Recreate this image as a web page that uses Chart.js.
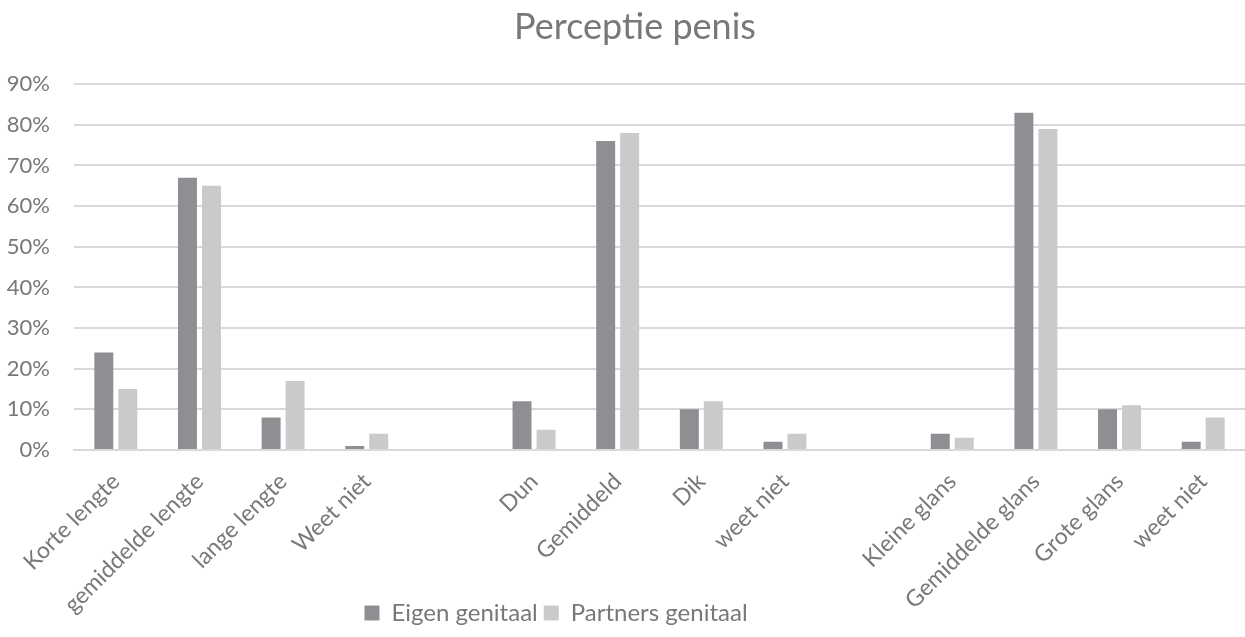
<!DOCTYPE html>
<html>
<head>
<meta charset="utf-8">
<script src="https://cdn.jsdelivr.net/npm/chart.js@4"></script>
<style>
  html, body { margin: 0; padding: 0; background: #fff; overflow: hidden; }
  #wrap { width: 1245px; height: 637px; }
</style>
</head>
<body>
<div id="wrap"><canvas id="chart"></canvas></div>
<script>
// categories (empty strings are the gaps between the groups)
const categories = [
    'Korte lengte', 'gemiddelde lengte', 'lange lengte', 'Weet niet', '',
    'Dun', 'Gemiddeld', 'Dik', 'weet niet', '',
    'Kleine glans', 'Gemiddelde glans', 'Grote glans', 'weet niet'
];
const eigenGenitaal = [24, 67, 8, 1, null, 12, 76, 10, 2, null, 4, 83, 10, 2];
const partnersGenitaal = [15, 65, 17, 4, null, 5, 78, 12, 4, null, 3, 79, 11, 8];
const yTicks = [0, 10, 20, 30, 40, 50, 60, 70, 80, 90];

const textColor = '#787878';
const fontFamily = 'Lato, "Open Sans", sans-serif';

// shift legend and title a bit, and let the long x labels run past the axis box
const fixLayout = {
    id: 'fixLayout',
    afterLayout(chart) {
        chart.legend.left -= 70;
        chart.legend.right -= 70;
        chart.titleBlock.left += 9;
        chart.titleBlock.right += 9;
        chart.scales.x.bottom = chart.height;
    }
};

new Chart(document.getElementById('chart').getContext('2d'), {
    type: 'bar',
    data: {
        labels: categories,
        datasets: [{
            label: 'Eigen genitaal',
            data: eigenGenitaal,
            backgroundColor: '#8e8f93',
            borderWidth: 0
        }, {
            label: 'Partners genitaal',
            data: partnersGenitaal,
            backgroundColor: '#c9cacc',
            borderWidth: 0
        }]
    },
    plugins: [fixLayout],
    options: {
        responsive: true,
        maintainAspectRatio: false,
        animation: false,
        layout: { padding: { left: 7, right: 0, top: 2, bottom: 2 } },
        datasets: {
            bar: { categoryPercentage: 0.574, barPercentage: 0.79 }
        },
        scales: {
            x: {
                grid: { display: false },
                border: { color: '#d9d9d9', width: 2 },
                ticks: {
                    color: textColor,
                    font: { family: fontFamily, size: 23 },
                    minRotation: 45,
                    maxRotation: 45,
                    autoSkip: false,
                    padding: 10
                },
                afterFit: scale => {
                    scale.height = 145;
                    scale.paddingLeft = 0;
                    scale.paddingRight = 0;
                }
            },
            y: {
                min: 0,
                max: 90,
                afterBuildTicks: axis => {
                    axis.ticks = yTicks.map(v => ({ value: v }));
                },
                afterFit: scale => {
                    scale.width = 67;
                },
                grid: { color: '#d9d9d9', lineWidth: 2, drawTicks: false },
                border: { display: false },
                ticks: {
                    color: textColor,
                    font: { family: fontFamily, size: 22 },
                    padding: 24,
                    callback: v => v + '%'
                }
            }
        },
        plugins: {
            title: {
                display: true,
                text: 'Perceptie penis',
                color: textColor,
                font: { family: fontFamily, size: 36, weight: 'normal' },
                padding: { top: 4, bottom: 35 }
            },
            legend: {
                position: 'bottom',
                labels: {
                    color: textColor,
                    font: { family: fontFamily, size: 24 },
                    boxWidth: 15,
                    boxHeight: 15,
                    padding: 6
                }
            },
            tooltip: { enabled: false }
        }
    }
});
</script>
</body>
</html>
